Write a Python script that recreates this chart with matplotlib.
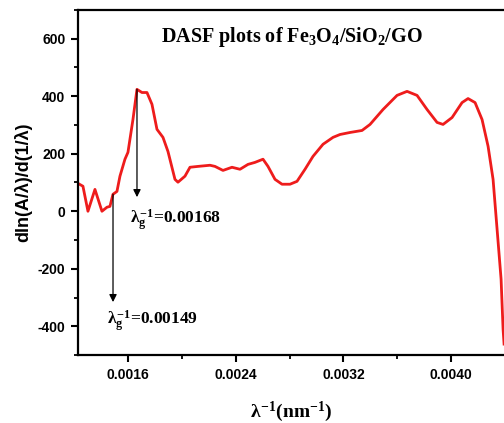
import matplotlib
matplotlib.use("Agg")
import matplotlib.pyplot as plt
from matplotlib.ticker import MultipleLocator

plt.rcParams["mathtext.fontset"] = "custom"
plt.rcParams["mathtext.rm"] = "Liberation Serif:bold"
plt.rcParams["mathtext.it"] = "Liberation Serif:bold"
plt.rcParams["mathtext.bf"] = "Liberation Serif:bold"
plt.rcParams["axes.unicode_minus"] = False

# DASF curve: inverse wavelength (nm^-1) vs dln(A/lambda)/d(1/lambda)
inv_wl = [0.0012286, 0.0012657, 0.0013029, 0.0013549, 0.0014069, 0.0014440,
          0.0014663, 0.0014886, 0.0015183, 0.0015406, 0.0015777, 0.0016000,
          0.0016371, 0.0016669, 0.0017040, 0.0017411, 0.0017783, 0.0018154,
          0.0018600, 0.0018971, 0.0019491, 0.0019714, 0.0020234, 0.0020606,
          0.0021200, 0.0022091, 0.0022463, 0.0023057, 0.0023725, 0.0024320,
          0.0024914, 0.0025434, 0.0026029, 0.0026400, 0.0026920, 0.0027440,
          0.0028034, 0.0028554, 0.0029149, 0.0029743, 0.0030486, 0.0031228,
          0.0031749, 0.0032491, 0.0033383, 0.0033977, 0.0034943, 0.0035983,
          0.0036726, 0.0037469, 0.0038211, 0.0038954, 0.0039400, 0.0040069,
          0.0040811, 0.0041257, 0.0041777, 0.0042297, 0.0042743, 0.0043114,
          0.0043411, 0.0043709, 0.0043857, 0.0043931]
dasf = [97, 87, 0, 76, 0, 14,
        17, 59, 69, 122, 181, 205,
        319, 424, 413, 413, 372, 285,
        257, 208, 111, 101, 122, 153,
        156, 160, 156, 142, 153, 146,
        163, 170, 181, 156, 111, 94,
        94, 104, 146, 191, 233, 257,
        267, 274, 281, 302, 354, 403,
        417, 403, 354, 309, 302, 326,
        378, 392, 378, 319, 226, 111,
        -62, -236, -410, -462]

# Band-gap markers (arrow position, arrow start, arrow end, label)
gap_labels = ["0.00168", "0.00149"]
arrow_x = [0.001667, 0.001489]
arrow_top = [424, 59]
arrow_bottom = [49, -316]
label_x = [0.001612, 0.001441]
label_y = [-33, -384]

x_ticks = [0.0016, 0.0024, 0.0032, 0.0040]
y_ticks = [-400, -200, 0, 200, 400, 600]

fig = plt.figure(figsize=(5.04, 4.23), dpi=100)
ax = fig.add_axes([78 / 504, 1 - 355 / 423, 427 / 504, 345 / 423])

ax.plot(inv_wl, dasf, color="#ee1c1c", lw=2.0, solid_joinstyle="round")

for ax_x, top, bot in zip(arrow_x, arrow_top, arrow_bottom):
    ax.annotate("", xy=(ax_x, bot), xytext=(ax_x, top),
                arrowprops=dict(arrowstyle="-|>", color="black", lw=0.9,
                                mutation_scale=11, shrinkA=0, shrinkB=0))

for lx, ly, lab in zip(label_x, label_y, gap_labels):
    ax.text(lx, ly, r"$\lambda_g^{-1}$=" + lab, ha="left", va="center",
            fontsize=12.5, family="Liberation Serif", fontweight="bold")

ax.text(0.5, 0.922, r"DASF plots of Fe$_3$O$_4$/SiO$_2$/GO",
        transform=ax.transAxes, ha="center", va="center", fontsize=14.5,
        family="Liberation Serif", fontweight="bold")

ax.set_xlim(0.001229, 0.004400)
ax.set_ylim(-500, 700)
ax.set_xticks(x_ticks)
ax.set_xticklabels([f"{t:.4f}" for t in x_ticks])
ax.set_yticks(y_ticks)
ax.xaxis.set_minor_locator(MultipleLocator(0.0004))
ax.yaxis.set_minor_locator(MultipleLocator(100))

ax.tick_params(which="major", direction="out", length=5, width=1.5, pad=4,
               labelsize=10)
ax.tick_params(which="minor", direction="out", length=3, width=1.3)
for lab in ax.get_xticklabels() + ax.get_yticklabels():
    lab.set_family("Liberation Sans")
    lab.set_fontweight("bold")

for side in ["left", "bottom", "top"]:
    ax.spines[side].set_linewidth(1.6)
ax.spines["right"].set_visible(False)

ax.set_ylabel("dln(A/λ)/d(1/λ)", family="Liberation Sans", fontweight="bold",
              fontsize=13, labelpad=4)
ax.set_xlabel(r"$\lambda^{-1}$(nm$^{-1}$)", fontsize=14,
              family="Liberation Serif", fontweight="bold", labelpad=13)

fig.savefig("out.png", dpi=100)
